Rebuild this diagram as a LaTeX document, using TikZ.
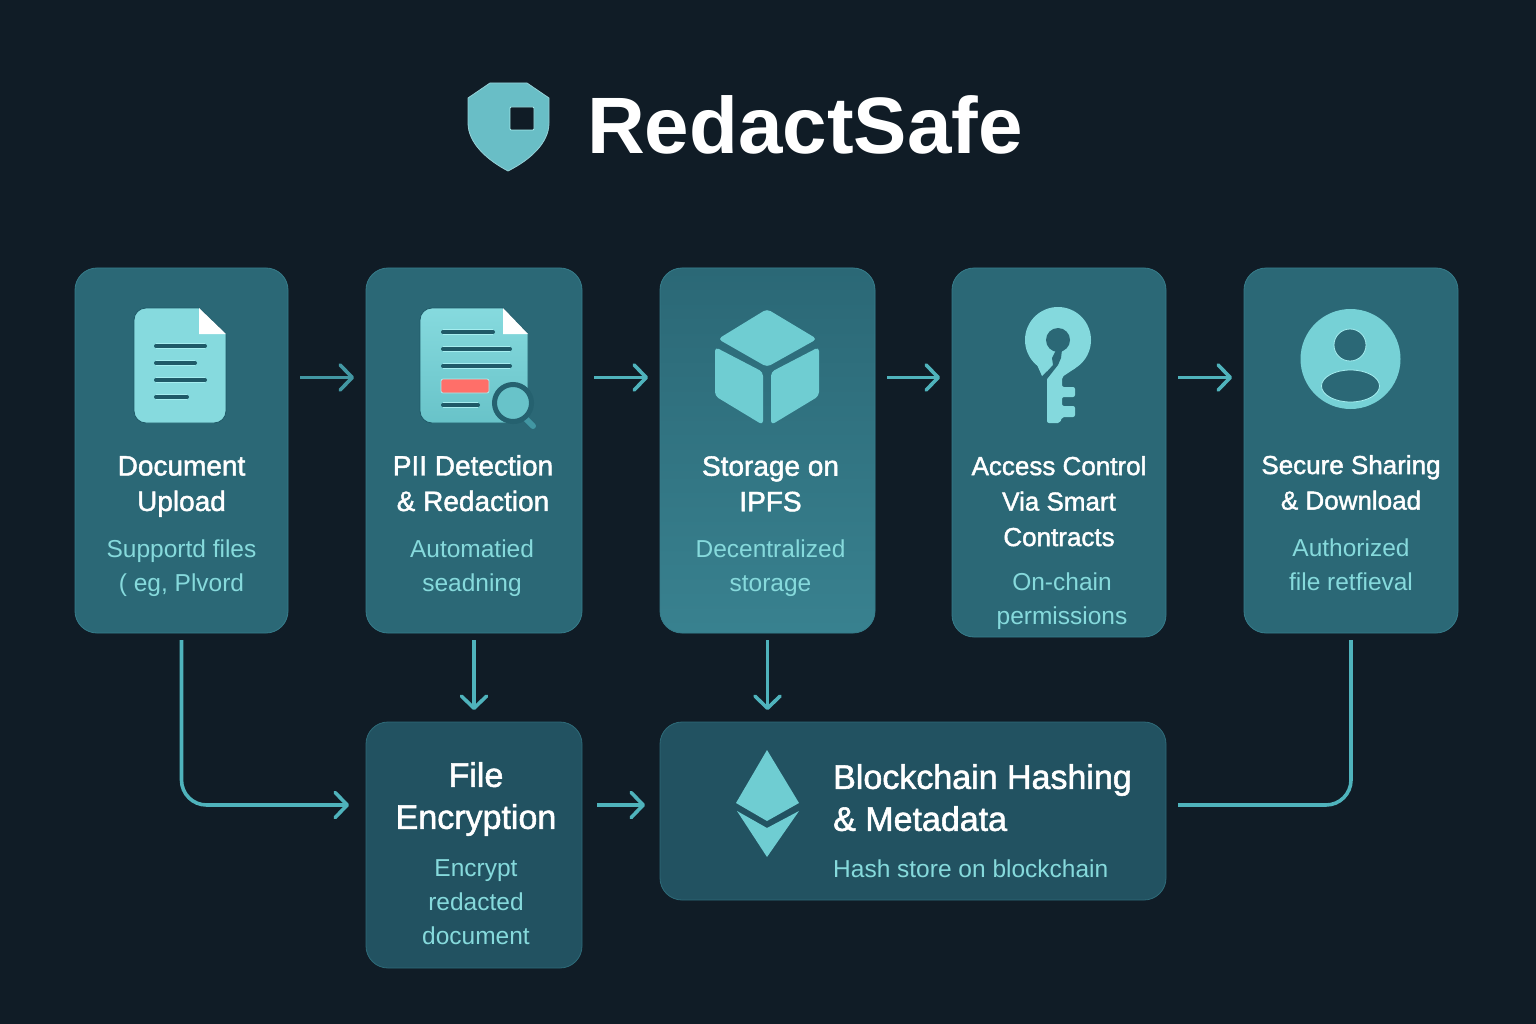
\documentclass[tikz,border=0pt]{standalone}
\usepackage{fontspec}
\usepackage{xcolor}
\usepackage{tikz}
\usetikzlibrary{arrows.meta,positioning}
\setmainfont{Liberation Sans}
\newfontfamily\medfont{Liberation Sans}[FakeBold=1.6]
\definecolor{pagedark}{HTML}{101C26}
\definecolor{cardteal}{HTML}{2B6876}
\definecolor{cardedge}{HTML}{3A8492}
\definecolor{cardlow}{HTML}{225261}
\definecolor{icondeep}{HTML}{1F5A68}
\definecolor{iconpale}{HTML}{86DADE}
\definecolor{iconmid}{HTML}{6FCDD2}
\definecolor{iconglow}{HTML}{A6EEF0}
\definecolor{subtext}{HTML}{86DADC}
\definecolor{flowteal}{HTML}{4FB3BC}
\definecolor{alertred}{HTML}{FF6F69}

\begin{document}
\begin{tikzpicture}[
  x=1pt, y=-1pt,
  node distance=78pt,
  card/.style={draw=cardedge!70!cardteal, line width=0.8pt, rounded corners=22pt, outer sep=0pt,
    fill=cardteal, minimum width=214pt, minimum height=365pt},
  lowcard/.style={draw=cardedge!50!cardlow, line width=0.8pt, rounded corners=22pt, outer sep=0pt,
    fill=cardlow},
  cardtitle/.style={font=\medfont\fontsize{28}{35.5}\selectfont, text=white,
    align=center, inner sep=0pt},
  sidetitle/.style={cardtitle, font=\medfont\fontsize{26}{35.5}\selectfont},
  lowtitle/.style={font=\medfont\fontsize{34}{42}\selectfont, text=white,
    inner sep=0pt},
  cardtext/.style={font=\fontsize{24.5}{34}\selectfont, text=subtext,
    align=center, inner sep=0pt},
  flow/.style={-{Straight Barb[length=12pt,width=25pt,round]}, line width=3.6pt,
    draw=flowteal, shorten <=12pt, shorten >=12pt},
  textline/.style={draw=icondeep, line width=4pt, line cap=round,
    preaction={draw=iconglow, line width=5.6pt}},
  docbody/.style={draw=icondeep, line width=0.8pt, top color=iconpale, bottom color=#1},
  docbody/.default=iconpale
]
\fill[pagedark] (0,0) rectangle (1536,1024);
\useasboundingbox (0,0) rectangle (1536,1024);

% title
\draw[flowteal!60!white, line width=0.8pt, fill=flowteal!85!white] (490,83) -- (527,83) -- (549,98) -- (549,123)
  .. controls (549,143) and (530,160) .. (508,171)
  .. controls (487,160) and (468,143) .. (468,123) -- (468,98) -- cycle;
\draw[iconglow, line width=0.8pt, fill=pagedark, rounded corners=1pt] (510,107) rectangle (534,130);
\node[font=\bfseries\fontsize{80}{80}\selectfont, text=white, inner sep=0pt,
  anchor=base west] (brand) at (587,154) {RedactSafe};

% top row
\node[card, minimum width=213pt] (upload) at (181.5,450.5) {};
\node[card, minimum width=216pt, right=of upload] (detect) {};
\node[card, minimum width=215pt, right=of detect, top color=cardteal,
  bottom color=cardedge!90!cardteal] (storage) {};
\node[card, minimum height=369pt, right=77pt of storage.north east, anchor=north west] (control) {};
\node[card, right=of control.north east, anchor=north west] (sharing) {};

% bottom row
\node[lowcard, minimum width=216pt, minimum height=246pt,
  below=89pt of detect.south, anchor=north] (encrypt) {};
\node[lowcard, minimum width=506pt, minimum height=178pt,
  below=89pt of storage.south west, anchor=north west] (chain) {};

% card texts
\node[cardtitle, below=188pt of upload.north] (uploadtitle) {Document\\Upload};
\node[cardtext, below=23pt of uploadtitle] (uploadtext) {Supportd files\\( eg, Plvord};
\node[cardtitle, below=187pt of detect.north, xshift=-1pt] (detecttitle) {PII Detection\\\& Redaction};
\node[cardtext, below=28pt of detecttitle, xshift=-1pt] (detecttext) {Automatied\\seadning};
\node[cardtitle, below=188pt of storage.north, xshift=3pt] (storagetitle) {Storage on\\IPFS};
\node[cardtext, below=28pt of storagetitle] (storagetext) {Decentralized\\storage};
\node[sidetitle, below=188pt of control.north] (controltitle) {Access Control\\Via Smart\\Contracts};
\node[cardtext, below=26pt of controltitle, xshift=3pt] (controltext) {On-chain\\permissions};
\node[sidetitle, below=187pt of sharing.north] (sharingtitle) {Secure Sharing\\\& Download};
\node[cardtext, below=29pt of sharingtitle] (sharingtext) {Authorized\\file retfieval};
\node[lowtitle, align=center, below=40pt of encrypt.north, xshift=2pt] (encrypttitle) {File\\Encryption};
\node[cardtext, below=23pt of encrypttitle] (encrypttext) {Encrypt\\redacted\\document};
\node[lowtitle, align=left, anchor=north west] (chaintitle) at (833,764) {Blockchain Hashing\\\& Metadata};
\node[cardtext, align=left, anchor=north west] (chaintext) at (833,860) {Hash store on blockchain};

% document icon
\draw[docbody] (199,308) -- (226,334) [rounded corners=12pt] -- (226,423) -- (134,423) -- (134,308) [sharp corners] -- (199,308) -- cycle;
\fill[white] (199,308) -- (226,334) -- (199,334) -- cycle;
\draw[textline] (156,346) -- (205,346);
\draw[textline] (156,363) -- (195,363);
\draw[textline] (156,380) -- (205,380);
\draw[textline] (156,397) -- (187,397);

% redaction icon
\draw[docbody=iconmid!90!cardteal] (503,308) -- (528,334) [rounded corners=12pt] -- (528,423) -- (420,423) -- (420,308) [sharp corners] -- (503,308) -- cycle;
\fill[white] (503,308) -- (528,334) -- (503,334) -- cycle;
\draw[textline] (443,332) -- (493,332);
\draw[textline] (443,349) -- (510,349);
\draw[textline] (443,366) -- (510,366);
\draw[textline] (443,405) -- (478,405);
\draw[iconglow, line width=0.8pt, fill=alertred, rounded corners=2pt] (441,379) rectangle (489,393);
\draw[cardedge!60!flowteal, line width=6pt, line cap=round] (526,419) -- (533,426);
\draw[icondeep!50!cardteal, line width=5pt, fill=iconmid!90!cardteal] (513,403) circle (18.5pt);

% cube icon
\begin{scope}[fill=iconmid, rounded corners=4pt]
\fill (767,309) -- (817,339) -- (767,367) -- (718,339) -- cycle;
\fill (715,347) -- (763,372) -- (763,425) -- (715,396) -- cycle;
\fill (819,347) -- (771,372) -- (771,425) -- (819,396) -- cycle;
\end{scope}

% key icon
\fill[iconpale!90!iconmid] (1058,340) circle (33pt);
\fill[iconpale!90!iconmid] (1034,358) -- (1042,376) -- (1052,366) -- cycle;
\fill[iconpale!90!iconmid, rounded corners=2pt] (1047,360) -- (1077,360) -- (1077,367)
  -- (1062,377) -- (1062,387) -- (1075,387) -- (1075,397) -- (1062,397) -- (1062,406)
  -- (1075,406) -- (1075,417) -- (1062,417) -- (1060,423) -- (1047,423) -- cycle;
\fill[cardteal] (1058,340) circle (12pt);
\fill[cardteal] (1056,350) -- (1062,350) -- (1061,358) -- (1058,365) -- (1047,379)
  -- (1043,376) -- (1053,365) -- (1052,358) -- cycle;

% person icon
\fill[iconmid!70!iconpale] (1350.5,359) circle (50pt);
\draw[iconglow, line width=0.8pt, fill=cardteal] (1350,345) circle (16pt);
\draw[iconglow, line width=0.8pt, fill=cardteal] (1350.5,386) ellipse (29pt and 16pt);

% ether icon
\fill[iconmid] (767,750) -- (799,803) -- (767,821) -- (736,803) -- cycle;
\fill[iconmid] (737,811) -- (767,828) -- (799,811) -- (767,857) -- cycle;

% connectors
\draw[flow, draw=cardedge!60!flowteal] ([yshift=73pt]upload.east) -- ([yshift=73pt]detect.west);
\draw[flow] ([yshift=73pt]detect.east) -- ([yshift=73pt]storage.west);
\draw[flow] ([yshift=73pt]storage.east) -- ([yshift=73pt]control.west |- storage.east);
\draw[flow] ([yshift=73pt]control.east |- sharing.east) -- ([yshift=73pt]sharing.west);
\draw[flow, shorten <=7pt] (detect.south) -- (encrypt.north);
\draw[flow, shorten <=7pt] (storage.south) -- (storage.south |- chain.north);
\draw[flow, rounded corners=25pt, shorten <=7pt, shorten >=17pt] (upload.south) |- ([yshift=40pt]encrypt.west);
\draw[flow, shorten >=15pt, shorten <=15pt] ([yshift=40pt]encrypt.east) -- ([yshift=6pt]chain.west);
\draw[line width=3.6pt, draw=flowteal, rounded corners=25pt, shorten <=12pt, shorten >=7pt]
  ([yshift=6pt]chain.east) -| (sharing.south);
\end{tikzpicture}
\end{document}
